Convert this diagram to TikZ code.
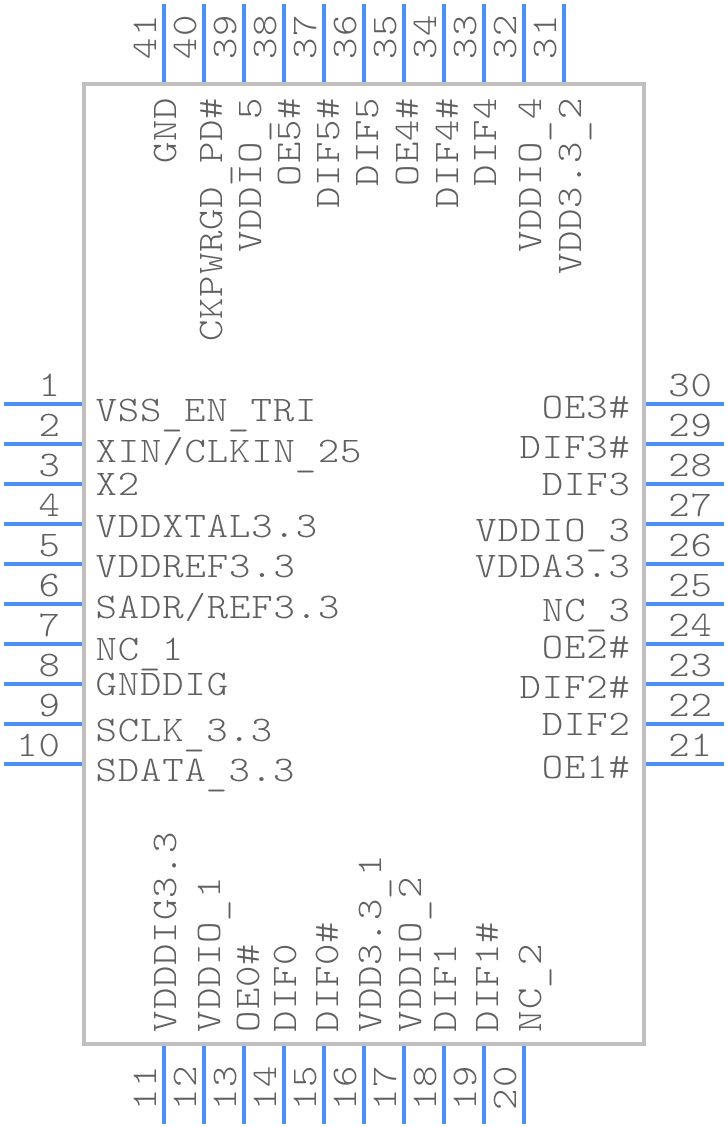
\documentclass[tikz,border=0pt]{standalone}
\usepackage{fontspec}
\setmonofont[FakeStretch=1.13,LetterSpace=2.5]{Latin Modern Mono Light}
\newcommand{\us}{\raisebox{-4pt}{\_}\kern1.5pt}
\begin{document}
\begin{tikzpicture}[x=1pt, y=-1pt, font=\ttfamily\fontsize{36}{36}\selectfont]
      \definecolor{pinblue}{HTML}{4A90F5}
      \definecolor{bodygray}{HTML}{BFBFBF}
      \definecolor{textgray}{HTML}{606060}
      \useasboundingbox (0,0) rectangle (728,1128);

      % Define the styles
      \tikzstyle{body}=[draw=bodygray, line width=4pt, minimum width=560pt, minimum height=960pt, inner sep=0pt]
      \tikzstyle{pin}=[draw=pinblue, line width=4pt]
      \tikzstyle{every node}=[text=textgray, inner sep=0pt, outer sep=0pt]

      % Package
      \node[body] (chip) at (364,564) {};

      % Left side
      \foreach \n/\y/\b/\t in {1/404/421/{VSS\us EN\us TRI}, 2/444/462/{XIN/CLKIN\us 25}, 3/484/495/X2, 4/524/537/VDDXTAL3.3,
          5/564/577/VDDREF3.3, 6/604/618/{SADR/REF3.3}, 7/644/660/{NC\us 1}, 8/684/695/GNDDIG,
          9/724/741/{SCLK\us 3.3}, 10/764/781/{SDATA\us 3.3}} {
        \coordinate (a\n) at (4,\y);
        \coordinate (b\n) at (82,\y);
        \draw[pin] (a\n) -- (b\n);
        \node[anchor=base east] (num\n) at (60,\y-8) {\n};
        \node[anchor=base west] (name\n) at (95.5,\b) {\t};
      }

      % Right side
      \foreach \n/\y/\b/\t in {30/404/418/OE3\#, 29/444/458/DIF3\#, 28/484/495/DIF3, 27/524/541/{VDDIO\us 3},
          26/564/577/VDDA3.3, 25/604/621/{NC\us 3}, 24/644/658/OE2\#, 23/684/698/DIF2\#,
          22/724/735/DIF2, 21/764/778/OE1\#} {
        \coordinate (a\n) at (646,\y);
        \coordinate (b\n) at (724,\y);
        \draw[pin] (a\n) -- (b\n);
        \node[anchor=base east] (num\n) at (712,\y-8) {\n};
        \node[anchor=base east] (name\n) at (630,\b) {\t};
      }

      % Top side
      \foreach \n/\x/\b/\t in {41/164/176/GND, 40/204/222/{CKPWRGD\us PD\#}, 39/244/261/{VDDIO\us 5}, 38/284/300/OE5\#,
          37/324/339/DIF5\#, 36/364/378/DIF5, 35/404/418/OE4\#, 34/444/458/DIF4\#,
          33/484/496/DIF4, 32/524/541/{VDDIO\us 4}, 31/564/581/{VDD3.3\us 2}} {
        \coordinate (a\n) at (\x,4);
        \coordinate (b\n) at (\x,82);
        \draw[pin] (a\n) -- (b\n);
        \node[rotate=90, anchor=base west] (num\n) at (\x-8,59) {\n};
        \node[rotate=90, anchor=base east] (name\n) at (\b,98) {\t};
      }

      % Bottom side
      \foreach \n/\x/\b/\t in {11/164/176/VDDDIG3.3, 12/204/220/{VDDIO\us 1}, 13/244/259/OE0\#, 14/284/296/DIF0,
          15/324/338/DIF0\#, 16/364/381/{VDD3.3\us 1}, 17/404/421/{VDDIO\us 2}, 18/444/456/DIF1,
          19/484/498/DIF1\#, 20/524/541/{NC\us 2}} {
        \coordinate (a\n) at (\x,1046);
        \coordinate (b\n) at (\x,1124);
        \draw[pin] (a\n) -- (b\n);
        \node[rotate=90, anchor=base west] (num\n) at (\x-8,1110) {\n};
        \node[rotate=90, anchor=base west] (name\n) at (\b,1032) {\t};
      }
    \end{tikzpicture}
\end{document}
